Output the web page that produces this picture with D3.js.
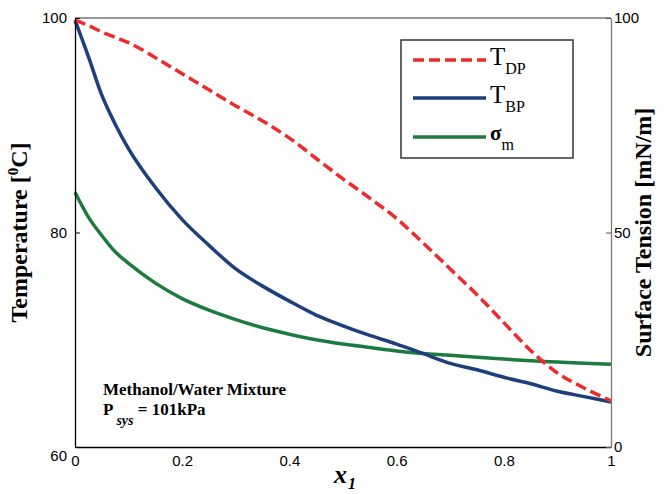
<!DOCTYPE html>
<html>
<head>
<meta charset="utf-8">
<script src="https://cdn.jsdelivr.net/npm/d3@7"></script>
<style>
  body { margin: 0; background: #fff; }
  svg { display: block; }
  .tick text { font-family: 'Liberation Sans', Arial, sans-serif; font-size: 15px; fill: #000; }
  .serif { font-family: 'Liberation Serif', 'Times New Roman', serif; font-weight: bold; }
</style>
</head>
<body>
<div id="chart"></div>
<script>
// mole fraction of methanol
const x1 = [0, 0.025, 0.05, 0.075, 0.1, 0.15, 0.2, 0.25, 0.3, 0.35, 0.4, 0.45, 0.5,
  0.55, 0.6, 0.65, 0.7, 0.75, 0.8, 0.85, 0.9, 0.95, 1];
// dew point temperature [C]
const tDP = [99.8, 99.3, 98.7, 98.2, 97.7, 96.3, 94.8, 93.3, 91.8, 90.4, 88.8, 86.9, 85.0,
  83.2, 81.3, 79.0, 76.6, 74.2, 71.6, 69.0, 66.9, 65.5, 64.3];
// bubble point temperature [C]
const tBP = [99.8, 96.4, 92.8, 90.1, 87.8, 84.2, 81.2, 78.8, 76.6, 75.0, 73.6, 72.3, 71.3,
  70.4, 69.6, 68.7, 67.8, 67.2, 66.5, 65.9, 65.2, 64.7, 64.2];
// mixture surface tension [mN/m]
const sigma = [59.4, 53.6, 49.3, 45.5, 42.8, 38.2, 34.6, 31.9, 29.7, 27.8, 26.3, 25.0, 24.0,
  23.2, 22.4, 21.8, 21.4, 20.9, 20.5, 20.1, 19.8, 19.5, 19.3];

const xTicks = [0, 0.2, 0.4, 0.6, 0.8, 1];
const tTicks = [60, 80, 100];
const sTicks = [0, 50, 100];

const WIDTH = 664;
const HEIGHT = 494;
const LEFT = 75, RIGHT = 611, TOP = 18, BOTTOM = 447;

const svg = d3.create('svg').attr('width', WIDTH).attr('height', HEIGHT);

const xScale = d3.scaleLinear().domain([0, 1]).range([LEFT, RIGHT]);
const tScale = d3.scaleLinear().domain([60, 100]).range([BOTTOM, TOP]);
const sScale = d3.scaleLinear().domain([0, 100]).range([BOTTOM, TOP]);

const red = '#ee2b2b';
const blue = '#1d3f7c';
const green = '#1e7b3f';

// frame top in grey
svg.append('line')
  .attr('x1', LEFT).attr('x2', RIGHT).attr('y1', TOP).attr('y2', TOP)
  .attr('stroke', '#777').attr('stroke-width', 1.3);

const lineT = d3.line()
  .x((d, i) => xScale(x1[i]))
  .y((d) => tScale(d))
  .curve(d3.curveMonotoneX);
const lineS = d3.line()
  .x((d, i) => xScale(x1[i]))
  .y((d) => sScale(d))
  .curve(d3.curveMonotoneX);

svg.append('path').datum(sigma).attr('d', lineS)
  .attr('fill', 'none').attr('stroke', green).attr('stroke-width', 3.5);
svg.append('path').datum(tBP).attr('d', lineT)
  .attr('fill', 'none').attr('stroke', blue).attr('stroke-width', 3.5);
svg.append('path').datum(tDP).attr('d', lineT)
  .attr('fill', 'none').attr('stroke', red).attr('stroke-width', 3.5)
  .attr('stroke-dasharray', '11,5');

// axes
const xAxis = svg.append('g')
  .attr('transform', `translate(0, ${BOTTOM})`)
  .call(d3.axisBottom(xScale).tickValues(xTicks).tickSize(0).tickPadding(8)
    .tickFormat((d) => d));
xAxis.select('.domain').attr('stroke', '#000').attr('stroke-width', 1.3);

const leftAxis = svg.append('g')
  .attr('transform', `translate(${LEFT}, 0)`)
  .call(d3.axisLeft(tScale).tickValues(tTicks).tickSizeInner(-5).tickSizeOuter(0).tickPadding(8));
leftAxis.select('.domain').attr('stroke', '#000').attr('stroke-width', 1.3);
leftAxis.selectAll('.tick text').filter((d) => d === 60).attr('dy', '0.9em');

const rightAxis = svg.append('g')
  .attr('transform', `translate(${RIGHT}, 0)`)
  .call(d3.axisRight(sScale).tickValues(sTicks).tickSizeInner(-5).tickSizeOuter(0).tickPadding(3));
rightAxis.select('.domain').attr('stroke', '#777').attr('stroke-width', 1.3);
rightAxis.selectAll('.tick line').attr('stroke', '#555');

// axis titles
const yTitle = svg.append('text').attr('class', 'serif')
  .attr('transform', `translate(27, ${(TOP + BOTTOM) / 2}) rotate(-90)`)
  .attr('text-anchor', 'middle').attr('font-size', 24);
yTitle.append('tspan').text('Temperature [');
yTitle.append('tspan').attr('font-size', 15).attr('dy', -9).text('0');
yTitle.append('tspan').attr('dy', 9).text('C]');

svg.append('text').attr('class', 'serif')
  .attr('transform', `translate(651, ${(TOP + BOTTOM) / 2}) rotate(-90)`)
  .attr('text-anchor', 'middle').attr('font-size', 24)
  .text('Surface Tension [mN/m]');

const xTitle = svg.append('text').attr('class', 'serif')
  .attr('x', 334).attr('y', 483).attr('font-size', 26).attr('font-style', 'italic');
xTitle.append('tspan').text('x');
xTitle.append('tspan').attr('font-size', 16).attr('dy', 6).attr('dx', 1).text('1');

// annotation
svg.append('text').attr('class', 'serif')
  .attr('x', 103).attr('y', 395).attr('font-size', 17)
  .text('Methanol/Water Mixture');
const pText = svg.append('text').attr('class', 'serif')
  .attr('x', 103).attr('y', 415).attr('font-size', 17);
pText.append('tspan').text('P');
pText.append('tspan').attr('font-size', 14).attr('font-style', 'italic').attr('dy', 10).attr('dx', 3).text('sys');
pText.append('tspan').attr('dy', -10).text(' = 101kPa');

// legend
const legend = svg.append('g');
legend.append('rect')
  .attr('x', 401).attr('y', 40).attr('width', 172).attr('height', 118)
  .attr('fill', '#fff').attr('stroke', '#333').attr('stroke-width', 1.5);

const legendItems = [
  { color: red, dash: '11,5', main: 'T', sub: 'DP', y: 60 },
  { color: blue, dash: null, main: 'T', sub: 'BP', y: 98 },
  { color: green, dash: null, main: 'σ', sub: 'm', y: 137 },
];
legendItems.forEach((item) => {
  legend.append('line')
    .attr('x1', 413).attr('x2', 486).attr('y1', item.y).attr('y2', item.y)
    .attr('stroke', item.color).attr('stroke-width', 3.5)
    .attr('stroke-dasharray', item.dash);
  const isT = item.main === 'T';
  const label = legend.append('text').attr('class', 'serif')
    .attr('x', 490).attr('y', isT ? item.y + 5 : item.y + 3)
    .attr('font-size', isT ? 25 : 21)
    .style('font-weight', isT ? 'normal' : 'bold');
  label.append('tspan').text(item.main);
  label.append('tspan').attr('font-size', 16).style('font-weight', 'normal')
    .attr('dy', isT ? 9 : 10).text(item.sub);
});

document.getElementById('chart').appendChild(svg.node());
</script>
</body>
</html>
